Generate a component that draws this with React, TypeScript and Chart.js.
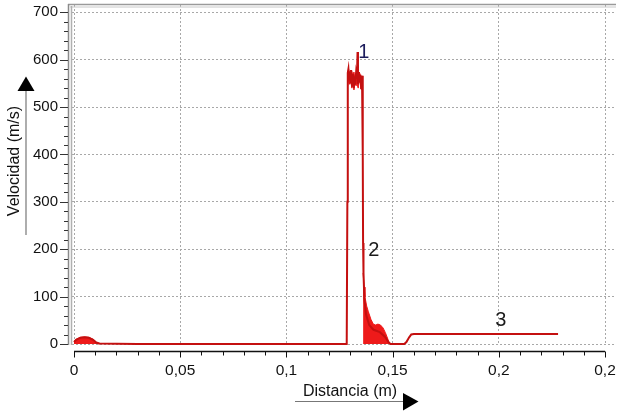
import React, { useEffect, useRef } from "react";
import { Chart, registerables } from "chart.js";

Chart.register(...registerables);

// ---- axis ticks ----
const xTickValues = [0, 0.05, 0.1, 0.15, 0.2, 0.25];
const xTickLabels = ["0", "0,05", "0,1", "0,15", "0,2", "0,2"];
const yTickValues = [0, 100, 200, 300, 400, 500, 600, 700];
const yTickLabels = ["0", "100", "200", "300", "400", "500", "600", "700"];

// ---- main velocity trace ----
const traceX = [
  0, 0.001, 0.003, 0.005, 0.007, 0.009, 0.0105, 0.012, 0.02, 0.03, 0.1284, 0.1287, 0.1289, 0.1292, 0.1295,
  0.1298, 0.1302, 0.1305, 0.1309, 0.1313, 0.1317, 0.132, 0.1324, 0.1328, 0.1332, 0.1335, 0.1337, 0.1341,
  0.1345, 0.1349, 0.1352, 0.1356, 0.1359, 0.136, 0.1361, 0.1363, 0.1367, 0.1375, 0.139, 0.141, 0.144,
  0.1465, 0.148, 0.149, 0.1555, 0.1565, 0.1578, 0.1588, 0.16, 0.2, 0.2279,
];
const traceY = [
  4, 9, 13, 14, 13, 9, 3, 1, 0.5, 0, 0, 300, 572, 580, 560, 575, 550, 578, 545, 570, 540, 565, 548, 572, 560,
  616, 548, 574, 552, 568, 538, 566, 548, 400, 213, 150, 95, 62, 40, 30, 25, 15, 4, 0, 0, 4, 14, 20, 21, 21, 21,
];

// ---- filled hump near the start ----
const humpX = [0, 0.001, 0.003, 0.005, 0.007, 0.009, 0.01, 0.011, 0.012];
const humpY = [6, 10, 14, 15, 14, 10, 4, 1, 0];

// ---- filled noisy plateau (1) ----
const plateauX = [
  0.1289, 0.1293, 0.1298, 0.1303, 0.1308, 0.1313, 0.1318, 0.1323, 0.1328, 0.1333, 0.1338, 0.1343, 0.1348,
  0.1353, 0.1358,
];
const plateauTop = [572, 580, 570, 578, 575, 566, 574, 560, 570, 575, 565, 574, 568, 560, 566];
const plateauBottom = [545, 560, 548, 555, 540, 552, 536, 550, 545, 548, 540, 555, 550, 536, 545];

// ---- filled oscillating decay (2) ----
const decayX = [
  0.1361, 0.1366, 0.137, 0.1378, 0.1386, 0.1398, 0.1409, 0.142, 0.1431, 0.1443, 0.1455, 0.1466, 0.1478, 0.1486,
];
const decayY = [150, 120, 99, 80, 68, 52, 42, 40, 42, 40, 34, 24, 10, 0];

// ---- annotations ----
const markTexts = ["1", "2", "3"];
const markX = [0.1365, 0.1412, 0.201];
const markY = [616, 197, 50];
const markColors = ["#1c1c5c", "#1a1a1a", "#1a1a1a"];

const FONT = '"Liberation Sans", Arial, sans-serif';
const LINE_RED = "#c41010";
const FILL_RED = "#ee1a1a";

const pts = (xs: number[], ys: number[]) => xs.map((x, i) => ({ x, y: ys[i] }));

const decorPlugin = {
  id: "decor",
  afterDraw(chart: any) {
    const ctx = chart.ctx;
    const area = chart.chartArea;
    const xs = chart.scales.x;
    const ys = chart.scales.y;
    ctx.save();

    // top frame (double gray line)
    ctx.strokeStyle = "#9a9a9a";
    ctx.lineWidth = 1.5;
    ctx.beginPath();
    ctx.moveTo(68, 4.5);
    ctx.lineTo(616, 4.5);
    ctx.stroke();
    ctx.strokeStyle = "#c8c8c8";
    ctx.lineWidth = 1;
    ctx.beginPath();
    ctx.moveTo(70, 7);
    ctx.lineTo(616, 7);
    ctx.stroke();

    // y axis (double gray line)
    ctx.strokeStyle = "#8a8a8a";
    ctx.lineWidth = 1.5;
    ctx.beginPath();
    ctx.moveTo(68.5, 4);
    ctx.lineTo(68.5, area.bottom);
    ctx.stroke();
    ctx.strokeStyle = "#b0b0b0";
    ctx.lineWidth = 1.5;
    ctx.beginPath();
    ctx.moveTo(71.5, 6);
    ctx.lineTo(71.5, area.bottom);
    ctx.stroke();

    // y ticks
    ctx.strokeStyle = "#333";
    ctx.lineWidth = 1;
    for (let v = 0; v <= 700; v += 20) {
      const py = Math.round(ys.getPixelForValue(v)) + 0.5;
      const major = v % 100 === 0;
      ctx.beginPath();
      ctx.moveTo(major ? 60 : 64, py);
      ctx.lineTo(68, py);
      ctx.stroke();
    }
    ctx.beginPath();
    ctx.moveTo(63, area.bottom - 0.5);
    ctx.lineTo(68, area.bottom - 0.5);
    ctx.stroke();

    // x axis
    const axY = 351.5;
    const x0 = xs.getPixelForValue(0);
    const x1 = xs.getPixelForValue(0.25);
    ctx.strokeStyle = "#111";
    ctx.lineWidth = 1.5;
    ctx.beginPath();
    ctx.moveTo(x0, axY);
    ctx.lineTo(x1, axY);
    ctx.stroke();
    ctx.lineWidth = 1;
    for (let i = 0; i <= 25; i++) {
      const px = Math.round(xs.getPixelForValue(i * 0.01)) + 0.5;
      const major = i % 5 === 0;
      ctx.beginPath();
      ctx.moveTo(px, axY);
      ctx.lineTo(px, axY + (major ? 6 : 4));
      ctx.stroke();
    }

    // x title with arrow
    ctx.fillStyle = "#111";
    ctx.font = `16px ${FONT}`;
    ctx.textAlign = "center";
    ctx.textBaseline = "middle";
    ctx.fillText("Distancia (m)", 350, 392);
    ctx.strokeStyle = "#777";
    ctx.lineWidth = 1.2;
    ctx.beginPath();
    ctx.moveTo(295, 401.5);
    ctx.lineTo(404, 401.5);
    ctx.stroke();
    ctx.fillStyle = "#000";
    ctx.beginPath();
    ctx.moveTo(403, 393);
    ctx.lineTo(418.5, 401.5);
    ctx.lineTo(403, 410.5);
    ctx.closePath();
    ctx.fill();

    // y title with arrow
    ctx.save();
    ctx.translate(15, 161);
    ctx.rotate(-Math.PI / 2);
    ctx.fillStyle = "#111";
    ctx.font = `16px ${FONT}`;
    ctx.textAlign = "center";
    ctx.textBaseline = "middle";
    ctx.fillText("Velocidad (m/s)", 0, 0);
    ctx.restore();
    ctx.strokeStyle = "#777";
    ctx.lineWidth = 1.2;
    ctx.beginPath();
    ctx.moveTo(26, 235);
    ctx.lineTo(26, 89);
    ctx.stroke();
    ctx.fillStyle = "#000";
    ctx.beginPath();
    ctx.moveTo(17.5, 91);
    ctx.lineTo(26, 76.5);
    ctx.lineTo(34.5, 91);
    ctx.closePath();
    ctx.fill();

    // numeric annotations
    ctx.font = `20px ${FONT}`;
    ctx.textAlign = "center";
    ctx.textBaseline = "middle";
    markTexts.forEach((t, i) => {
      ctx.fillStyle = markColors[i];
      ctx.fillText(t, xs.getPixelForValue(markX[i]), ys.getPixelForValue(markY[i]));
    });

    ctx.restore();
  },
};

export default function App() {
  const ref = useRef<HTMLCanvasElement>(null);

  useEffect(() => {
    const canvas = ref.current;
    if (!canvas) return;
    // chart area: left 72, right 615, top 5, bottom 345
    const pxPerX = (605 - 74) / 0.25;
    const pxPerY = (344 - 12.3) / 700;
    const X_MIN = -2 / pxPerX;
    const X_MAX = 0.25 + 10 / pxPerX;
    const Y_MAX = 700 + (12.3 - 5) / pxPerY;
    const Y_MIN = -1 / pxPerY;

    const zeroPad = (s: any) => {
      s.paddingLeft = 0;
      s.paddingRight = 0;
      s.paddingTop = 0;
      s.paddingBottom = 0;
    };

    const chart = new Chart(canvas, {
      type: "line",
      data: {
        datasets: [
          {
            data: pts(traceX, traceY),
            borderColor: LINE_RED,
            borderWidth: 2,
            pointRadius: 0,
            fill: false,
            tension: 0,
            order: 0,
          },
          {
            data: pts(humpX, humpY),
            borderColor: FILL_RED,
            backgroundColor: FILL_RED,
            borderWidth: 1,
            pointRadius: 0,
            fill: { value: 0 },
            order: 1,
          },
          {
            data: pts(plateauX, plateauTop),
            borderColor: FILL_RED,
            backgroundColor: FILL_RED,
            borderWidth: 1,
            pointRadius: 0,
            fill: "+1",
            order: 1,
          },
          {
            data: pts(plateauX, plateauBottom),
            borderColor: FILL_RED,
            backgroundColor: FILL_RED,
            borderWidth: 1,
            pointRadius: 0,
            fill: false,
            order: 1,
          },
          {
            data: pts(decayX, decayY),
            borderColor: FILL_RED,
            backgroundColor: FILL_RED,
            borderWidth: 1,
            pointRadius: 0,
            fill: { value: 0 },
            order: 1,
          },
        ],
      },
      options: {
        animation: false,
        responsive: false,
        devicePixelRatio: 1,
        layout: { padding: { top: 5, right: 3, left: 0, bottom: 0 } },
        plugins: { legend: { display: false }, tooltip: { enabled: false } },
        scales: {
          x: {
            type: "linear",
            min: X_MIN,
            max: X_MAX,
            afterBuildTicks: (s: any) => {
              s.ticks = xTickValues.map((v) => ({ value: v }));
            },
            afterFit: (s: any) => {
              s.height = 68;
              zeroPad(s);
            },
            ticks: {
              autoSkip: false,
              maxRotation: 0,
              padding: 16,
              color: "#111",
              font: { family: FONT, size: 15.5 },
              callback: (_v: any, i: number) => xTickLabels[i],
            },
            grid: { color: "#a8a8a8", lineWidth: 1, drawTicks: false },
            border: { display: false, dash: [2, 2] },
          },
          y: {
            type: "linear",
            min: Y_MIN,
            max: Y_MAX,
            afterBuildTicks: (s: any) => {
              s.ticks = yTickValues.map((v) => ({ value: v }));
            },
            afterFit: (s: any) => {
              s.width = 72;
              zeroPad(s);
            },
            ticks: {
              autoSkip: false,
              padding: 14,
              color: "#111",
              font: { family: FONT, size: 15 },
              callback: (_v: any, i: number) => yTickLabels[i],
            },
            grid: { color: "#a8a8a8", lineWidth: 1, drawTicks: false },
            border: { display: false, dash: [2, 2] },
          },
        },
      },
      plugins: [decorPlugin],
    });
    return () => chart.destroy();
  }, []);

  return (
    <div style={{ position: "fixed", left: 0, top: 0, width: 618, height: 413, background: "#fff" }}>
      <canvas ref={ref} width={618} height={413} style={{ width: 618, height: 413, display: "block" }} />
    </div>
  );
}
